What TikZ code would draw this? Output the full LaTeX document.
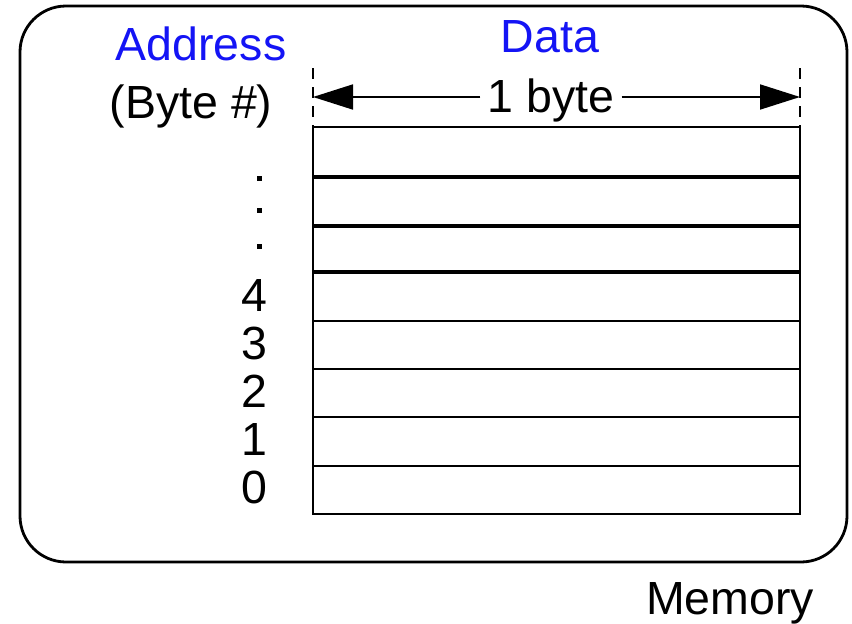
\documentclass[tikz,border=0pt]{standalone}
\usepackage{fontspec}
\setmainfont{Liberation Sans}
\usetikzlibrary{arrows.meta}
\begin{document}
\begin{tikzpicture}[x=1pt,y=-1pt,
  lbl/.style={inner sep=0pt,anchor=base,font=\fontsize{46.5}{55}\selectfont},
  blue lbl/.style={lbl,text={rgb,255:red,20;green,20;blue,245}},
  cellline/.style={line width=2.2pt},
  thickline/.style={line width=3.2pt},
  ext/.style={line width=2pt,dash pattern=on 11pt off 8pt},
  bigarrow/.style={line width=1.8pt,-{Triangle[length=40pt,width=25pt]}},
  dotmark/.style={fill=black,inner sep=0pt,minimum size=5pt,rectangle}]
\useasboundingbox (0,0) rectangle (852,624);
% outer rounded box
\draw[line width=2.8pt,rounded corners=46pt] (20,6) rectangle (847,562);
% labels
\node[blue lbl] (addr) at (201,60) {Address};
\node[blue lbl] (data) at (550,52) {Data};
\node[lbl] (bytenum) at (191,118) {(Byte \#)};
\node[lbl,fill=white,inner xsep=7pt] (byte) at (551,112) {1 byte};
\node[lbl] (mem) at (730,614) {Memory};
% table
\draw[cellline] (313,127) -- (313,514) -- (800,514) -- (800,127) -- cycle;
\foreach \y in {321,369,417,466} \draw[cellline] (313,\y) -- (800,\y);
\foreach \y in {177,226,272} \draw[thickline] (313,\y) -- (800,\y);
% extension lines
\draw[ext] (313,68) -- (313,127);
\draw[ext] (800,68) -- (800,127);
% arrows
\coordinate (ltip) at (313,97);
\coordinate (rtip) at (800,97);
\draw[bigarrow] (byte.west |- 0,97) -- (ltip);
\draw[bigarrow] (byte.east |- 0,97) -- (rtip);
% addresses
\foreach \n/\y in {4/311,3/359,2/407,1/455,0/503}
  \node[lbl] (a\n) at (254,\y) {\n};
\node[dotmark] (d1) at (259,178) {};
\node[dotmark] (d2) at (259,210) {};
\node[dotmark] (d3) at (259,246) {};
\end{tikzpicture}
\end{document}
